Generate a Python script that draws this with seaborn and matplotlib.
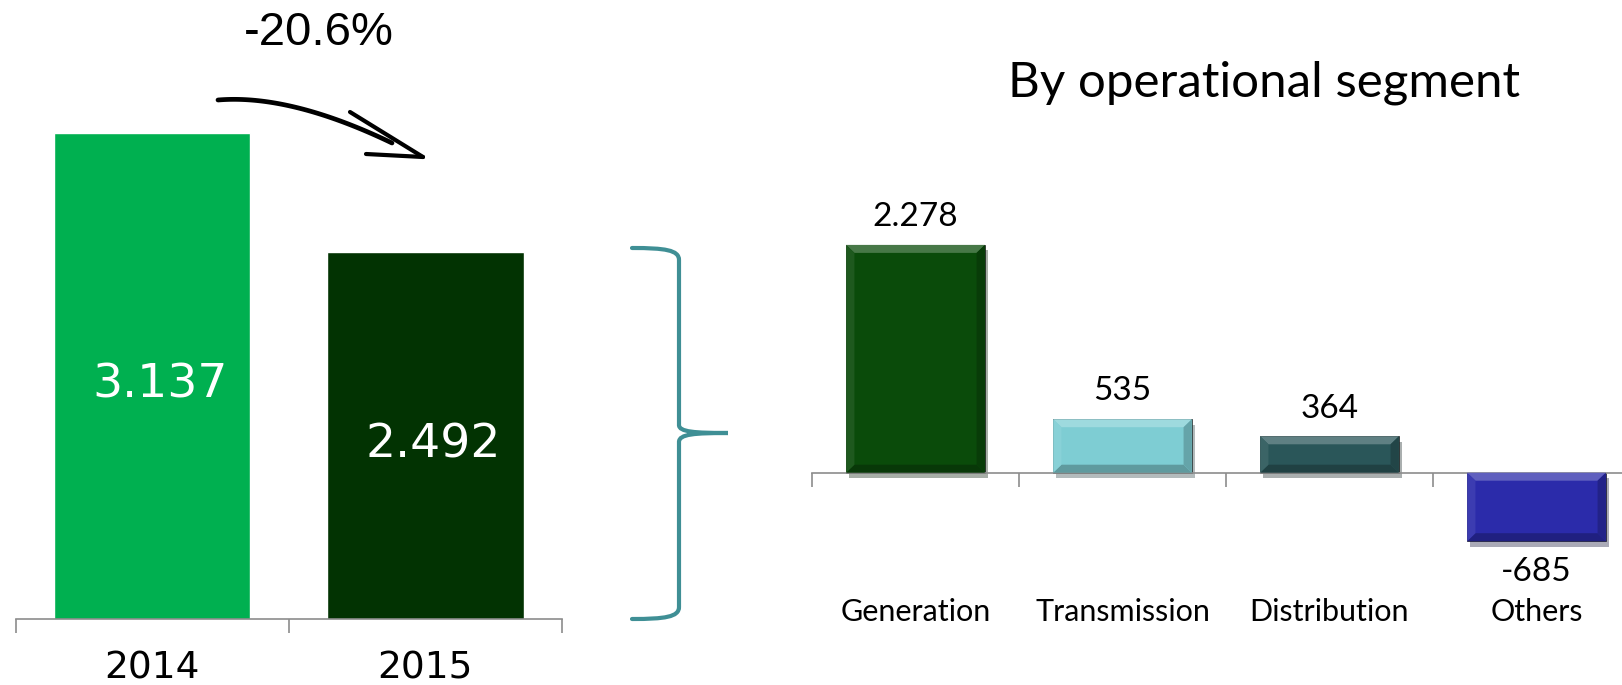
import matplotlib
matplotlib.use('Agg')
import matplotlib.pyplot as plt
import matplotlib.patheffects as pe
from matplotlib.path import Path
from matplotlib.patches import PathPatch, Polygon
from matplotlib.colors import to_rgb
import seaborn as sns
import pandas as pd
import numpy as np

# Datos
years = ['2014', '2015']
totals = [3137, 2492]
total_labels = ['3.137', '2.492']
total_colors = ['#00B050', '#023302']
change_label = '-20.6%'

segments = ['Generation', 'Transmission', 'Distribution', 'Others']
segment_values = [2278, 535, 364, -685]
segment_labels = ['2.278', '535', '364', '-685']
segment_colors = ['#0A4B0A', '#7ECDD3', '#2A5659', '#2B2BAA']
segment_title = 'By operational segment'

W, H = 1622, 685


def fig_box(x0, y_top, x1, y_bottom):
    """Convierte una caja en pixeles (origen arriba-izquierda) a fracciones de figura."""
    return [x0 / W, 1 - y_bottom / H, (x1 - x0) / W, (y_bottom - y_top) / H]


def mix(color, other, f):
    c, o = np.array(to_rgb(color)), np.array(to_rgb(other))
    return tuple(c * (1 - f) + o * f)


def style_category_axis(ax, n, spine_y, pad):
    for s in ['top', 'right', 'left']:
        ax.spines[s].set_visible(False)
    ax.spines['bottom'].set_position(('data', spine_y))
    ax.spines['bottom'].set_color('#8C8C8C')
    ax.spines['bottom'].set_linewidth(1.2)
    ax.set_yticks([])
    ax.set_xticks(range(n))
    ax.set_xticks(np.arange(n + 1) - 0.5, minor=True)
    ax.tick_params(axis='x', which='major', length=0, pad=pad, bottom=True,
                   labelcolor='black')
    ax.tick_params(axis='x', which='minor', length=10, direction='out', bottom=True,
                   color='#8C8C8C', width=1.2)
    ax.set_xlim(-0.5, n - 0.5)
    ax.set_xlabel('')
    ax.set_ylabel('')
    ax.set_facecolor('none')


def add_bevel(ax, patch, color, bx, by):
    """Dibuja un bisel sencillo sobre una barra ya creada."""
    x0 = patch.get_x()
    x1 = x0 + patch.get_width()
    ylo = min(patch.get_y(), patch.get_y() + patch.get_height())
    yhi = max(patch.get_y(), patch.get_y() + patch.get_height())
    faces = [
        ([(x0, yhi), (x1, yhi), (x1 - bx, yhi - by), (x0 + bx, yhi - by)], mix(color, 'white', 0.25)),
        ([(x0, ylo), (x1, ylo), (x1 - bx, ylo + by), (x0 + bx, ylo + by)], mix(color, 'black', 0.25)),
        ([(x0, ylo), (x0, yhi), (x0 + bx, yhi - by), (x0 + bx, ylo + by)], mix(color, 'white', 0.08)),
        ([(x1, ylo), (x1, yhi), (x1 - bx, yhi - by), (x1 - bx, ylo + by)], mix(color, 'black', 0.2)),
    ]
    for pts, c in faces:
        ax.add_patch(Polygon(pts, closed=True, facecolor=c, edgecolor='none', zorder=3))


def plot_totals(fig):
    """Barras del total 2014 vs 2015."""
    ax = fig.add_axes(fig_box(15.5, 100, 562, 619))
    df = pd.DataFrame({'year': years, 'value': totals})
    sns.barplot(data=df, x='year', y='value', hue='year', palette=total_colors,
                width=0.72, legend=False, ax=ax, saturation=1)
    y0 = 505
    ax.set_ylim(y0, y0 + 519 / 0.1845)
    style_category_axis(ax, len(years), y0, 23)
    for lbl in ax.get_xticklabels():
        lbl.set_fontsize(27)
        lbl.set_family('DejaVu Sans')
    for i, (v, t) in enumerate(zip(totals, total_labels)):
        ax.text(i + 0.03, (v + y0) / 2 - 50, t, ha='center', va='center', color='white',
                fontsize=34, family='DejaVu Sans')


def plot_segments(fig):
    """Barras por segmento operativo."""
    ax = fig.add_axes(fig_box(812, 150, 1640, 600))
    df = pd.DataFrame({'segment': segments, 'value': segment_values})
    sns.barplot(data=df, x='segment', y='value', hue='segment', palette=segment_colors,
                width=0.67, legend=False, ax=ax, saturation=1,
                edgecolor='#1a1a1a', linewidth=0.5)
    ax.set_ylim(-1273, 3227)
    for p, c in zip(ax.patches, segment_colors):
        p.set_path_effects([pe.SimplePatchShadow(offset=(2, -4), alpha=0.35), pe.Normal()])
        add_bevel(ax, p, c, 0.04, 80)
    style_category_axis(ax, len(segments), 0, 90)
    for lbl in ax.get_xticklabels():
        lbl.set_fontsize(22)
        lbl.set_family('Lato')
    for i, (v, t) in enumerate(zip(segment_values, segment_labels)):
        off = 20 if v >= 0 else -22
        ax.annotate(t, (i, v), xytext=(0, off), textcoords='offset points',
                    ha='center', va='center', fontsize=24, family='Lato', color='black')


def plot_decorations(fig):
    """Flecha, porcentaje, llave y titulo."""
    ov = fig.add_axes([0, 0, 1, 1])
    ov.set_xlim(0, W)
    ov.set_ylim(H, 0)
    ov.axis('off')

    ov.text(319, 33, change_label, ha='center', va='center', fontsize=34,
            family='Liberation Sans', color='black')
    t = np.linspace(0, 1, 50)
    p0, p1, p2 = np.array([218, 100]), np.array([290, 94]), np.array([392, 143])
    curve = ((1 - t) ** 2)[:, None] * p0 + (2 * t * (1 - t))[:, None] * p1 + (t ** 2)[:, None] * p2
    ov.plot(curve[:, 0], curve[:, 1], color='black', lw=3.4, solid_capstyle='round')
    ov.plot([350, 423], [112, 157], color='black', lw=3, solid_capstyle='round')
    ov.plot([366, 423], [154, 157], color='black', lw=3, solid_capstyle='round')

    verts = [(632, 248), (665, 248), (679, 250), (679, 260),
             (679, 425),
             (679, 432), (695, 433), (728, 433),
             (695, 433), (679, 434), (679, 442),
             (679, 607),
             (679, 617), (665, 619), (632, 619)]
    codes = [Path.MOVETO, Path.CURVE4, Path.CURVE4, Path.CURVE4,
             Path.LINETO,
             Path.CURVE4, Path.CURVE4, Path.CURVE4,
             Path.CURVE4, Path.CURVE4, Path.CURVE4,
             Path.LINETO,
             Path.CURVE4, Path.CURVE4, Path.CURVE4]
    ov.add_patch(PathPatch(Path(verts, codes), facecolor='none', edgecolor='#3F8F95',
                           lw=3, capstyle='round'))

    ov.text(1264, 83, segment_title, ha='center', va='center', fontsize=35.5,
            family='Lato', color='black')


def main():
    sns.set_style('white')
    plt.rcParams['font.family'] = ['Lato', 'DejaVu Sans']
    plt.rcParams['text.color'] = 'black'
    fig = plt.figure(figsize=(W / 100, H / 100), dpi=100)
    plot_totals(fig)
    plot_segments(fig)
    plot_decorations(fig)
    fig.savefig('out.png', dpi=100)


main()
